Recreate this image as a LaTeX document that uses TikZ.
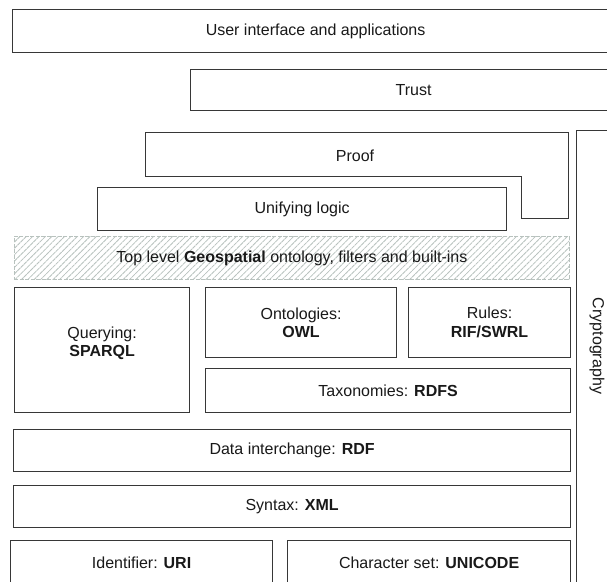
\documentclass[tikz,border=0pt]{standalone}
\usepackage{fontspec}
\setmainfont{Liberation Sans}
\usetikzlibrary{patterns.meta}
\definecolor{edgegray}{RGB}{55,55,55}
\definecolor{hatchgray}{RGB}{184,194,190}

\begin{document}
\begin{tikzpicture}[
        x=1pt,
        y=-1pt,
        layer/.style={
            rectangle,
            draw=edgegray,
            line width=1.2pt,
            anchor=north west,
            align=center,
            inner sep=0pt,
            text=black!90,
            font=\fontsize{16}{18.5}\selectfont
        },
        hatched/.style={
            layer,
            draw=hatchgray,
            dash pattern=on 4pt off 1.5pt,
            pattern={Lines[angle=45,distance=4.5pt,line width=0.8pt]},
            pattern color=hatchgray
        },
        caption/.style={
            align=center,
            inner sep=0pt,
            text=black!90,
            font=\fontsize{16}{18.5}\selectfont
        },
        outline/.style={
            draw=edgegray,
            line width=1.2pt
        }
    ]

        \path[use as bounding box, fill=white] (0,0) rectangle (607,581);
        \clip (0,0) rectangle (607,581);

        % Upper layers
        \node[layer, minimum width=606pt, minimum height=43pt] (ui) at (12,9)
            {User interface and applications};
        \node[layer, minimum width=446pt, minimum height=41pt] (trust) at (190,69)
            {Trust};

        \draw[outline] (145.6,132.6) -- (568.6,132.6) -- (568.6,218.6) -- (521.6,218.6)
            -- (521.6,176.6) -- (145.6,176.6) -- cycle;
        \node[caption] (proof) at (355,156) {Proof};

        \node[layer, minimum width=409pt, minimum height=43pt] (logic) at (97,187)
            {Unifying logic};
        \node[hatched, minimum width=555pt, minimum height=43pt] (geo) at (14,236)
            {Top level \textbf{Geospatial} ontology, filters and built-ins};

        % Cryptography column
        \node[layer, minimum width=44pt, minimum height=470pt] (crypto) at (576,130) {};
        \node[caption, rotate=-90] (cryptotxt) at (597,346) {Cryptography};

        % Middle layers
        \node[layer, minimum width=175pt, minimum height=125pt] (query) at (14,287) {};
        \node[caption] (querytxt) at ([yshift=7pt]query.center)
            {Querying:\\\textbf{SPARQL}};
        \node[layer, minimum width=191pt, minimum height=70pt] (onto) at (205,287)
            {Ontologies:\\\textbf{OWL}};
        \node[layer, minimum width=162pt, minimum height=70pt] (rules) at (408,287)
            {Rules:\\\textbf{RIF/SWRL}};
        \node[layer, minimum width=365pt, minimum height=44pt] (tax) at (205,368)
            {Taxonomies: \textbf{RDFS}};

        % Lower layers
        \node[layer, minimum width=557pt, minimum height=42pt] (rdf) at (13,429)
            {Data interchange: \textbf{RDF}};
        \node[layer, minimum width=557pt, minimum height=42pt] (xml) at (13,485)
            {Syntax: \textbf{XML}};
        \node[layer, minimum width=262pt, minimum height=44pt] (uri) at (10,540)
            {Identifier: \textbf{URI}};
        \node[layer, minimum width=283pt, minimum height=44pt] (chars) at (287,540)
            {Character set: \textbf{UNICODE}};

    \end{tikzpicture}
\end{document}
